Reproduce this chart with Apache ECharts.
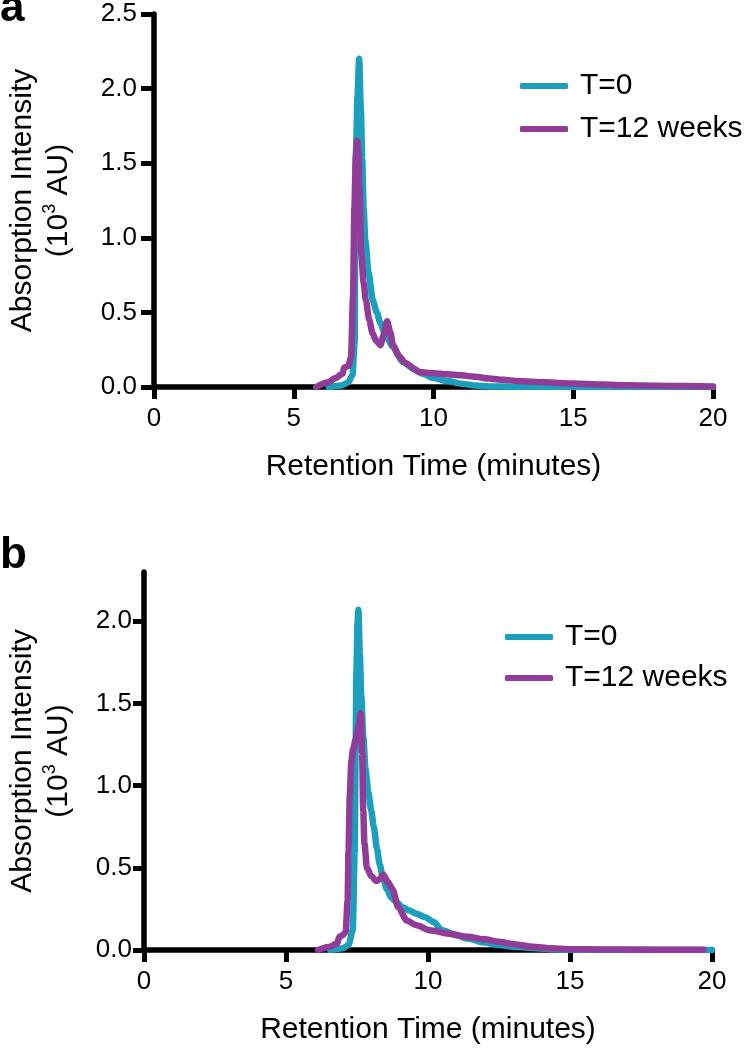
<!DOCTYPE html>
<html><head><meta charset="utf-8">
<script src="https://cdn.jsdelivr.net/npm/echarts@6/dist/echarts.min.js"></script>
<style>html,body{margin:0;padding:0;background:#fff}#c{width:748px;height:1050px}</style>
</head><body><div id="c"></div>
<script>
// ---------- data ----------
const seriesNames = ['T=0', 'T=12 weeks'];
const xTickValues = [0, 5, 10, 15, 20];
const yTickValuesA = [0, 0.5, 1, 1.5, 2, 2.5];
const yTickValuesB = [0, 0.5, 1, 1.5, 2];
const panelLabels = ['a', 'b'];
const xTitle = 'Retention Time (minutes)';

// panel a, T=0
const timeA_T0 = [6.25, 6.7, 6.95, 7.1, 7.18, 7.2, 7.23, 7.28, 7.34, 7.4, 7.45, 7.5, 7.56, 7.68, 7.83, 7.97, 8.1, 8.25, 8.55, 8.9, 9.3, 9.6, 10.0, 10.5, 11.0, 11.5, 12.0, 13.0, 15.0, 20.0];
const absA_T0  = [0, 0.01, 0.03, 0.08, 0.3, 1.0, 1.6, 1.95, 2.2, 1.87, 1.53, 1.2, 0.98, 0.76, 0.58, 0.5, 0.43, 0.36, 0.27, 0.17, 0.12, 0.09, 0.06, 0.04, 0.022, 0.01, 0.004, 0.002, 0.001, 0];
// panel a, T=12 weeks
const timeA_T12 = [5.8, 6.2, 6.5, 6.75, 6.8, 6.95, 7.05, 7.12, 7.17, 7.22, 7.27, 7.31, 7.35, 7.41, 7.5, 7.58, 7.7, 7.82, 7.95, 8.1, 8.22, 8.34, 8.45, 8.55, 8.75, 9.0, 9.5, 10.0, 10.5, 11.0, 11.5, 12.0, 12.5, 13.0, 14.0, 15.0, 16.0, 17.0, 18.0, 19.0, 20.0];
const absA_T12  = [0, 0.03, 0.06, 0.09, 0.13, 0.14, 0.2, 0.6, 1.2, 1.55, 1.65, 1.58, 1.32, 0.9, 0.7, 0.58, 0.45, 0.36, 0.31, 0.28, 0.35, 0.44, 0.37, 0.28, 0.21, 0.16, 0.1, 0.092, 0.085, 0.078, 0.068, 0.057, 0.048, 0.041, 0.031, 0.023, 0.016, 0.012, 0.009, 0.006, 0.004];
// panel b, T=0
const timeB_T0 = [6.55, 7.0, 7.2, 7.35, 7.42, 7.45, 7.48, 7.52, 7.55, 7.6, 7.65, 7.72, 7.8, 7.9, 8.0, 8.09, 8.2, 8.3, 8.4, 8.55, 8.7, 8.9, 9.1, 9.35, 9.6, 9.9, 10.2, 10.5, 11.0, 11.4, 12.0, 12.5, 13.0, 13.7, 14.5, 15.0, 20.0];
const absB_T0  = [0, 0.01, 0.03, 0.12, 0.6, 1.2, 1.7, 2.0, 2.07, 1.8, 1.55, 1.3, 1.1, 0.96, 0.85, 0.75, 0.62, 0.52, 0.45, 0.37, 0.32, 0.29, 0.26, 0.24, 0.22, 0.2, 0.17, 0.12, 0.09, 0.07, 0.045, 0.03, 0.02, 0.012, 0.004, 0.0, 0.0];
// panel b, T=12 weeks
const timeB_T12 = [6.13, 6.55, 6.8, 6.88, 7.0, 7.1, 7.17, 7.2, 7.25, 7.3, 7.36, 7.45, 7.55, 7.63, 7.68, 7.72, 7.76, 7.85, 8.0, 8.18, 8.3, 8.42, 8.6, 8.75, 8.95, 9.25, 9.6, 10.07, 10.7, 11.4, 12.0, 12.5, 13.0, 13.7, 14.3, 15.0, 16.0, 18.0, 19.7];
const absB_T12  = [0, 0.02, 0.04, 0.08, 0.09, 0.11, 0.3, 0.6, 0.95, 1.15, 1.22, 1.28, 1.36, 1.44, 1.2, 0.85, 0.65, 0.5, 0.45, 0.42, 0.43, 0.46, 0.41, 0.37, 0.26, 0.18, 0.15, 0.12, 0.1, 0.08, 0.065, 0.05, 0.035, 0.02, 0.01, 0.005, 0.003, 0.002, 0.001];

// ---------- style ----------
const FONT = '"Liberation Sans", Arial, Helvetica, sans-serif';
const TEAL = '#1b9fbd';
const PURPLE = '#903c98';

function pairs(xs, ys) { return xs.map((x, i) => [x, ys[i]]); }

function xAxisCfg(gi) {
  return {
    gridIndex: gi, type: 'value', min: 0, max: 20, interval: 5,
    axisLine: { show: true, onZero: false, lineStyle: { color: '#000', width: 5.5 } },
    axisTick: { show: true, length: 12, customValues: xTickValues, lineStyle: { color: '#000', width: 5 } },
    axisLabel: { customValues: xTickValues, fontSize: 26, color: '#000', margin: 19, fontFamily: FONT },
    splitLine: { show: false },
    name: xTitle, nameLocation: 'middle', nameGap: 65,
    nameTextStyle: { fontSize: 30, color: '#000', fontFamily: FONT }
  };
}
function yAxisCfg(gi, max, ticks, gap, tickLen, margin) {
  return {
    gridIndex: gi, type: 'value', min: 0, max: max, interval: 0.5,
    axisLine: { show: true, onZero: false, lineStyle: { color: '#000', width: 5.5 } },
    axisTick: { show: true, length: tickLen, customValues: ticks, lineStyle: { color: '#000', width: 5 } },
    axisLabel: { customValues: ticks, fontSize: 26, color: '#000', margin: margin, fontFamily: FONT,
                 formatter: v => Number(v).toFixed(1) },
    splitLine: { show: false },
    name: '{t|Absorption Intensity}\n{t|(10}{s|3}{t| AU)}',
    nameLocation: 'middle', nameRotate: 90, nameGap: gap,
    nameTextStyle: {
      color: '#000', fontFamily: FONT,
      rich: {
        t: { fontSize: 30, lineHeight: 36, color: '#000', fontFamily: FONT },
        s: { fontSize: 18, lineHeight: 22, verticalAlign: 'top', color: '#000', fontFamily: FONT }
      }
    }
  };
}
function lineSeries(name, color, xi, xs, ys) {
  return {
    name: name, type: 'line', xAxisIndex: xi, yAxisIndex: xi,
    data: pairs(xs, ys), color: color,
    showSymbol: false, symbol: 'none', smooth: 0.25, smoothMonotone: 'x',
    lineStyle: { color: color, width: 6.5, cap: 'round', join: 'round' },
    emphasis: { disabled: true }, animation: false
  };
}
function legendCfg(left, top, gap) {
  return {
    data: seriesNames, orient: 'vertical', left: left, top: top,
    icon: 'roundRect', itemWidth: 48, itemHeight: 6, itemGap: gap,
    selectedMode: false,
    textStyle: { fontSize: 30, lineHeight: 30, color: '#000', fontFamily: FONT, padding: [0, 0, 0, 7] }
  };
}

const option = {
  animation: false,
  backgroundColor: '#fff',
  grid: [
    { left: 152, top: 14, width: 561, height: 373 },
    { left: 144, top: 572, width: 568, height: 378 }
  ],
  xAxis: [xAxisCfg(0), xAxisCfg(1)],
  yAxis: [
    yAxisCfg(0, 2.5, yTickValuesA, 77, 13, 17),
    yAxisCfg(1, 2.3, yTickValuesB, 67, 11, 12)
  ],
  legend: [legendCfg(515, 66, 13), legendCfg(500, 617, 11)],
  series: [
    lineSeries(seriesNames[0], TEAL, 0, timeA_T0, absA_T0),
    lineSeries(seriesNames[1], PURPLE, 0, timeA_T12, absA_T12),
    lineSeries(seriesNames[0], TEAL, 1, timeB_T0, absB_T0),
    lineSeries(seriesNames[1], PURPLE, 1, timeB_T12, absB_T12)
  ],
  graphic: [
    { type: 'text', left: 0, top: -13, style: { text: panelLabels[0], font: 'bold 44px ' + FONT, fill: '#000' } },
    { type: 'text', left: 0, top: 534, style: { text: panelLabels[1], font: 'bold 44px ' + FONT, fill: '#000' } }
  ]
};

const chart = echarts.init(document.getElementById('c'), null, { renderer: 'canvas' });
chart.setOption(option);
</script>
</body></html>
